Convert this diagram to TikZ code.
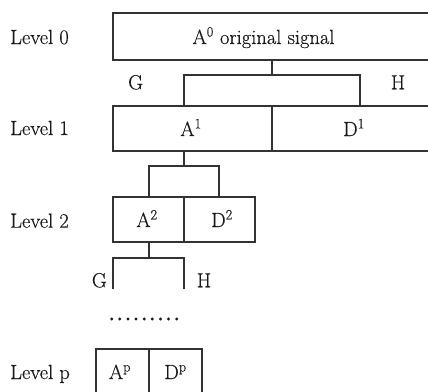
\documentclass[tikz,border=0pt]{standalone}
\usepackage{fontspec}
\setmainfont{Latin Modern Roman}[FakeBold=0.35]
\usepackage{tikz}
\begin{document}
\begin{tikzpicture}[x=1pt,y=-1pt,
  every node/.style={font=\fontsize{20.5}{23}\selectfont, text=black!90},
  cell/.style={draw=black!80, line width=1.8pt, rectangle, inner sep=0pt},
  wire/.style={draw=black!80, line width=1.8pt},
  lbl/.style={anchor=base west, inner sep=0pt},
  ctext/.style={anchor=base, inner sep=0pt}]
\useasboundingbox (0,0) rectangle (428,391);
\clip (0,0) rectangle (428,391);

% level labels
\node[lbl] (lev0) at (10,44) {Level 0};
\node[lbl] (lev1) at (10,135) {Level 1};
\node[lbl] (lev2) at (10,227.7) {Level 2};
\node[lbl] (levp) at (10,379) {Level p};

% level 0
\node[cell, minimum width=322.7pt, minimum height=46.7pt] (L0) at (274.65,36.65) {};
\node[ctext] (t0) at (263.5,44) {A\textsuperscript{0} original signal};

% level 1
\node[cell, minimum width=158.7pt, minimum height=45pt] (A1) at (192.65,128.5) {};
\node[cell, minimum width=164pt, minimum height=45pt] (D1) at (354,128.5) {};
\node[ctext] (tA1) at (191,136) {A\textsuperscript{1}};
\node[ctext] (tD1) at (354,136) {D\textsuperscript{1}};

% level 2
\node[cell, minimum width=70.4pt, minimum height=45.6pt] (A2) at (148.5,219.5) {};
\node[cell, minimum width=71.3pt, minimum height=45.6pt] (D2) at (219.35,219.5) {};
\node[ctext] (tA2) at (147,227) {A\textsuperscript{2}};
\node[ctext] (tD2) at (222,227) {D\textsuperscript{2}};

% level p
\node[cell, minimum width=52.7pt, minimum height=45.7pt] (Ap) at (122.35,372.15) {};
\node[cell, minimum width=53pt, minimum height=45.7pt] (Dp) at (175.2,372.15) {};
\node[ctext] (tAp) at (120,379) {A\textsuperscript{p}};
\node[ctext] (tDp) at (175.5,379) {D\textsuperscript{p}};

% filter labels
\node[lbl] (g0) at (128,89.3) {G};
\node[lbl] (h0) at (390.7,89.3) {H};
\node[lbl] (g2) at (91.7,287.3) {G};
\node[lbl] (h2) at (196.7,287.3) {H};

% forks between levels
\coordinate (f0) at (272,75);
\coordinate (f0l) at (183.7,75);
\coordinate (f0r) at (360,75);
\draw[wire] (L0.south -| f0) -- (f0);
\draw[wire] (f0l |- A1.north) -- (f0l) -- (f0r) -- (f0r |- D1.north);

\coordinate (f1) at (183.7,165.7);
\coordinate (f1l) at (149,165.7);
\coordinate (f1r) at (219,165.7);
\draw[wire] (A1.south -| f1) -- (f1);
\draw[wire] (f1l |- A2.north) -- (f1l) -- (f1r) -- (f1r |- D2.north);

\coordinate (f2) at (149,258.3);
\coordinate (f2l) at (113.3,258.3);
\coordinate (f2r) at (183.7,258.3);
\coordinate (e2l) at (113.3,289.3);
\coordinate (e2r) at (183.7,289.3);
\draw[wire] (A2.south -| f2) -- (f2);
\draw[wire] (e2l) -- (f2l) -- (f2r) -- (e2r);

% continuation dots
\foreach \i in {0,...,8}
  \fill[black!90] (111.7+8.125*\i,319) circle (1.6pt);
\end{tikzpicture}
\end{document}
